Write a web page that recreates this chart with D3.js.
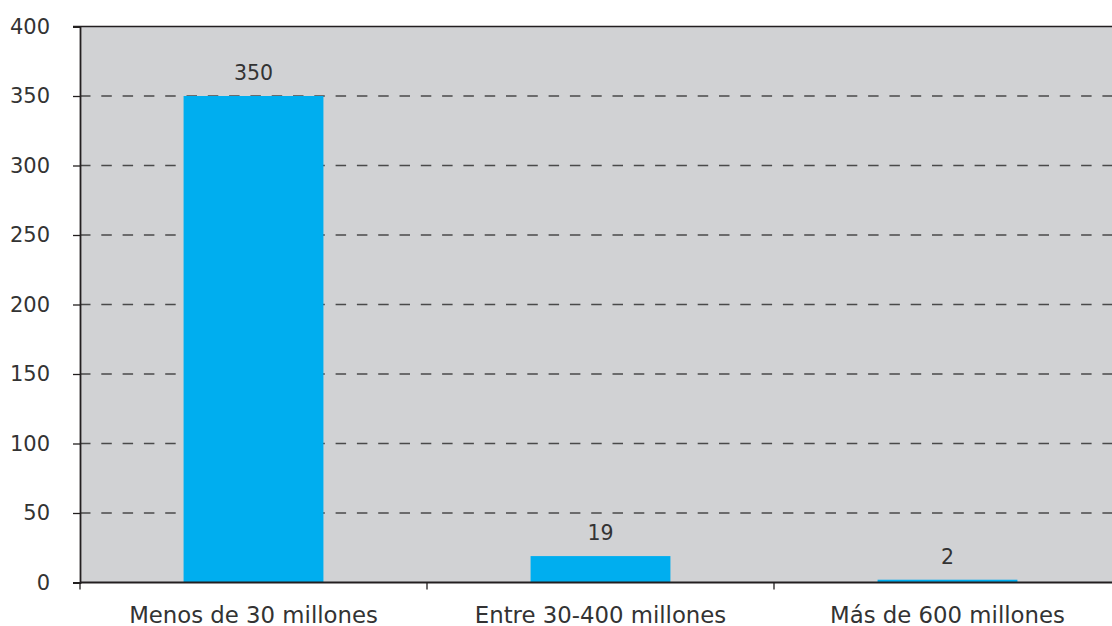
<!DOCTYPE html>
<html>
<head>
<meta charset="utf-8">
<script src="https://cdn.jsdelivr.net/npm/d3@7"></script>
<style>
  html, body { margin: 0; padding: 0; background: #ffffff; }
  svg { display: block; }
  text { font-family: "DejaVu Sans", sans-serif; fill: #333333; }
</style>
</head>
<body>
<svg id="chart" width="1112" height="626"></svg>
<script>
const categories = ["Menos de 30 millones", "Entre 30-400 millones", "Más de 600 millones"];
const values = [350, 19, 2];
const yTicks = [0, 50, 100, 150, 200, 250, 300, 350, 400];

const W = 1112, H = 626;
const margin = { top: 26.5, left: 80, bottom: 43.5 };
const plotRight = 1121;
const svg = d3.select("#chart");

const x = d3.scaleBand()
  .domain(categories)
  .range([margin.left, plotRight])
  .paddingInner(0.597)
  .paddingOuter(0.2985);

const y = d3.scaleLinear()
  .domain([0, 400])
  .range([H - margin.bottom, margin.top]);

// plot background
svg.append("rect")
  .attr("x", margin.left).attr("y", y(400))
  .attr("width", plotRight - margin.left).attr("height", y(0) - y(400))
  .attr("fill", "#d1d2d4");

// dashed gridlines
svg.append("g").selectAll("line")
  .data(yTicks.filter(d => d > 0 && d < 400))
  .join("line")
  .attr("x1", margin.left).attr("x2", plotRight)
  .attr("y1", d => y(d)).attr("y2", d => y(d))
  .attr("stroke", "#4a4a4a").attr("stroke-width", 1.3)
  .attr("stroke-dasharray", "10.5,10.8");

// bars
svg.append("g").selectAll("rect")
  .data(values)
  .join("rect")
  .attr("x", (d, i) => x(categories[i]))
  .attr("width", x.bandwidth())
  .attr("y", d => y(d))
  .attr("height", d => y(0) - y(d))
  .attr("fill", "#00aeef");

// value labels
svg.append("g").selectAll("text")
  .data(values)
  .join("text")
  .attr("x", (d, i) => x(categories[i]) + x.bandwidth() / 2)
  .attr("y", d => y(d) - 16)
  .attr("text-anchor", "middle")
  .attr("font-size", 20.5)
  .text(d => d);

// top border
svg.append("line")
  .attr("x1", margin.left - 7).attr("x2", plotRight)
  .attr("y1", y(400)).attr("y2", y(400))
  .attr("stroke", "#231f20").attr("stroke-width", 1.5);

// y axis
const yAxis = svg.append("g")
  .attr("transform", `translate(${margin.left},0)`)
  .call(d3.axisLeft(y).tickValues(yTicks).tickSize(7).tickPadding(23));
yAxis.select(".domain").attr("stroke", "#231f20").attr("stroke-width", 1.8);
yAxis.selectAll(".tick line").attr("stroke", "#231f20").attr("stroke-width", 1.3);
yAxis.selectAll(".tick text")
  .attr("font-family", "DejaVu Sans, sans-serif")
  .attr("font-size", 21).attr("fill", "#333333");

// x axis
const xEdges = d3.scaleLinear().domain([0, 3]).range([margin.left, plotRight]);
svg.append("line")
  .attr("x1", margin.left).attr("x2", plotRight)
  .attr("y1", y(0)).attr("y2", y(0))
  .attr("stroke", "#231f20").attr("stroke-width", 2);
svg.append("g").selectAll("line")
  .data([0, 1, 2])
  .join("line")
  .attr("x1", d => xEdges(d)).attr("x2", d => xEdges(d))
  .attr("y1", y(0)).attr("y2", y(0) + 7)
  .attr("stroke", "#231f20").attr("stroke-width", 1.3);
svg.append("g").selectAll("text")
  .data(categories)
  .join("text")
  .attr("x", d => x(d) + x.bandwidth() / 2)
  .attr("y", y(0) + 40)
  .attr("text-anchor", "middle")
  .attr("font-size", 22.8)
  .text(d => d);
</script>
</body>
</html>
